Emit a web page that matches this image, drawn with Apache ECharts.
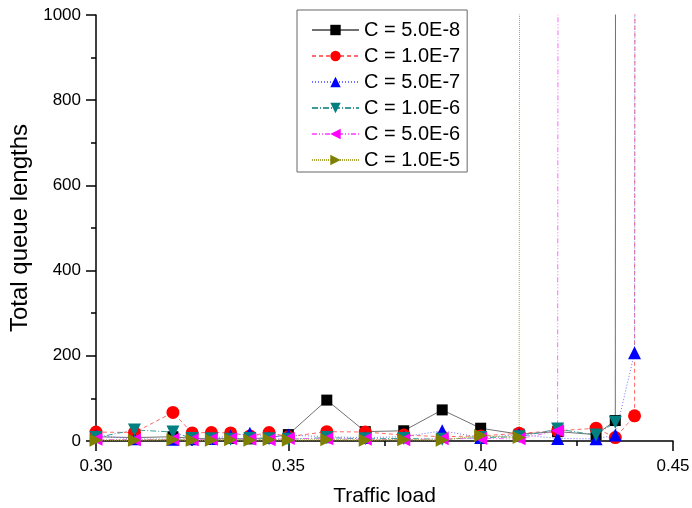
<!DOCTYPE html>
<html>
<head>
<meta charset="utf-8">
<script src="https://cdn.jsdelivr.net/npm/echarts@6/dist/echarts.min.js"></script>
<style>
  html, body { margin: 0; padding: 0; background: #fff; }
  #chart { width: 692px; height: 508px; }
</style>
</head>
<body>
<div id="chart"></div>
<script>
// Traffic load values shared by all series
const loads = [0.30, 0.31, 0.32, 0.325, 0.33, 0.335, 0.34, 0.345, 0.35, 0.36,
               0.37, 0.38, 0.39, 0.40, 0.41, 0.42, 0.43, 0.435, 0.44, 0.45];

// Total queue lengths per coefficient C (null = no sample; the queue has already diverged)
const c5e8 = [10, 8, 10, 6, 5, 6, 5, 8, 15, 96, 22, 24, 73, 30, 16, 22, 15, 48, 100000, null];
const c1e7 = [21, 20, 67, 19, 20, 19, 12, 20, 10, 22, 21, 14, 10, 12, 18, 24, 30, 8, 59, 100000];
const c5e7 = [12, 5, 4, 5, 6, 12, 18, 8, 14, 10, 8, 10, 24, 8, 15, 6, 5, 14, 207, 100000];
const c1e6 = [8, 26, 21, 6, 5, 4, 6, 5, 4, 8, 5, 6, 4, 8, 10, 28, 14, 44, null, null];
const c5e6 = [4, 3, 4, 3, 4, 5, 4, 3, 6, 5, 4, 3, 5, 6, 5, 24, 100000, null, null, null];
const c1e5 = [2, 2, 3, 2, 2, 3, 2, 3, 2, 3, 2, 3, 2, 13, 8, 100000, null, null, null, null];

const seriesNames = ['C = 5.0E-8', 'C = 1.0E-7', 'C = 5.0E-7', 'C = 1.0E-6', 'C = 5.0E-6', 'C = 1.0E-5'];
const seriesValues = [c5e8, c1e7, c5e7, c1e6, c5e6, c1e5];

const xTicks = [0.30, 0.35, 0.40, 0.45];
const yTicks = [0, 200, 400, 600, 800, 1000];

const FONT = 'Liberation Sans, Arial, sans-serif';

const styles = [
  { color: '#000000', line: '#707070', dash: 'solid', symbol: 'rect', size: 11, rot: 0 },
  { color: '#ff0000', line: '#ff6a6a', dash: [4, 3], symbol: 'circle', size: 13, rot: 0 },
  { color: '#0000ff', line: '#7070ff', dash: [1, 2], symbol: 'triangle', size: 13, rot: 0 },
  { color: '#008080', line: '#3c9c9c', dash: [6, 2, 1, 2], symbol: 'triangle', size: 13, rot: 180 },
  { color: '#ff00ff', line: '#ff6aff', dash: [5, 2, 1, 2, 1, 2], symbol: 'triangle', size: 13, rot: 90 },
  { color: '#808000', line: '#a8a840', dash: [1, 1], symbol: 'triangle', size: 13, rot: -90 }
];

const series = seriesNames.map((name, i) => {
  const s = styles[i];
  return {
    name: name,
    type: 'line',
    data: loads.map((x, j) => [x, seriesValues[i][j]]),
    symbol: s.symbol,
    symbolSize: s.size,
    symbolRotate: s.rot,
    clip: true,
    connectNulls: false,
    itemStyle: { color: s.color, opacity: 1 },
    lineStyle: { color: s.line, width: 1, type: s.dash },
    emphasis: { disabled: true },
    animation: false
  };
});

const chart = echarts.init(document.getElementById('chart'), null, { renderer: 'canvas' });
chart.setOption({
  animation: false,
  backgroundColor: '#ffffff',
  grid: { left: 96, right: 19, top: 15, bottom: 67, containLabel: false, outerBoundsMode: 'none' },
  legend: {
    orient: 'vertical',
    left: 297,
    top: 10,
    padding: [10, 7, 2, 14],
    itemGap: 6,
    itemWidth: 47,
    itemHeight: 13,
    borderColor: '#666666',
    borderWidth: 1,
    backgroundColor: '#ffffff',
    data: seriesNames,
    textStyle: { fontFamily: FONT, fontSize: 20, color: '#000', lineHeight: 20 }
  },
  xAxis: {
    type: 'value',
    min: xTicks[0],
    max: xTicks[xTicks.length - 1],
    interval: 0.05,
    name: 'Traffic load',
    nameLocation: 'middle',
    nameGap: 45,
    nameTextStyle: { fontFamily: FONT, fontSize: 21, color: '#000' },
    axisLine: { show: true, onZero: false, lineStyle: { color: '#000', width: 1.5 } },
    axisTick: { show: true, inside: false, length: 10, lineStyle: { color: '#000', width: 1.5 } },
    minorTick: { show: true, splitNumber: 2, length: 5, lineStyle: { color: '#000', width: 1.5 } },
    axisLabel: {
      margin: 17,
      fontFamily: FONT, fontSize: 17, color: '#000',
      formatter: v => v.toFixed(2)
    },
    splitLine: { show: false }
  },
  yAxis: {
    type: 'value',
    min: yTicks[0],
    max: yTicks[yTicks.length - 1],
    interval: 200,
    name: 'Total queue lengths',
    nameLocation: 'middle',
    nameGap: 56,
    nameRotate: 90,
    nameTextStyle: { fontFamily: FONT, fontSize: 24, color: '#000' },
    axisLine: { show: true, onZero: false, lineStyle: { color: '#000', width: 1.5 } },
    axisTick: { show: true, inside: false, length: 10, lineStyle: { color: '#000', width: 1.5 } },
    minorTick: { show: true, splitNumber: 2, length: 5, lineStyle: { color: '#000', width: 1.5 } },
    axisLabel: {
      margin: 15, fontFamily: FONT, fontSize: 17, color: '#000',
      formatter: v => String(v)
    },
    splitLine: { show: false }
  },
  series: series
});
</script>
</body>
</html>
